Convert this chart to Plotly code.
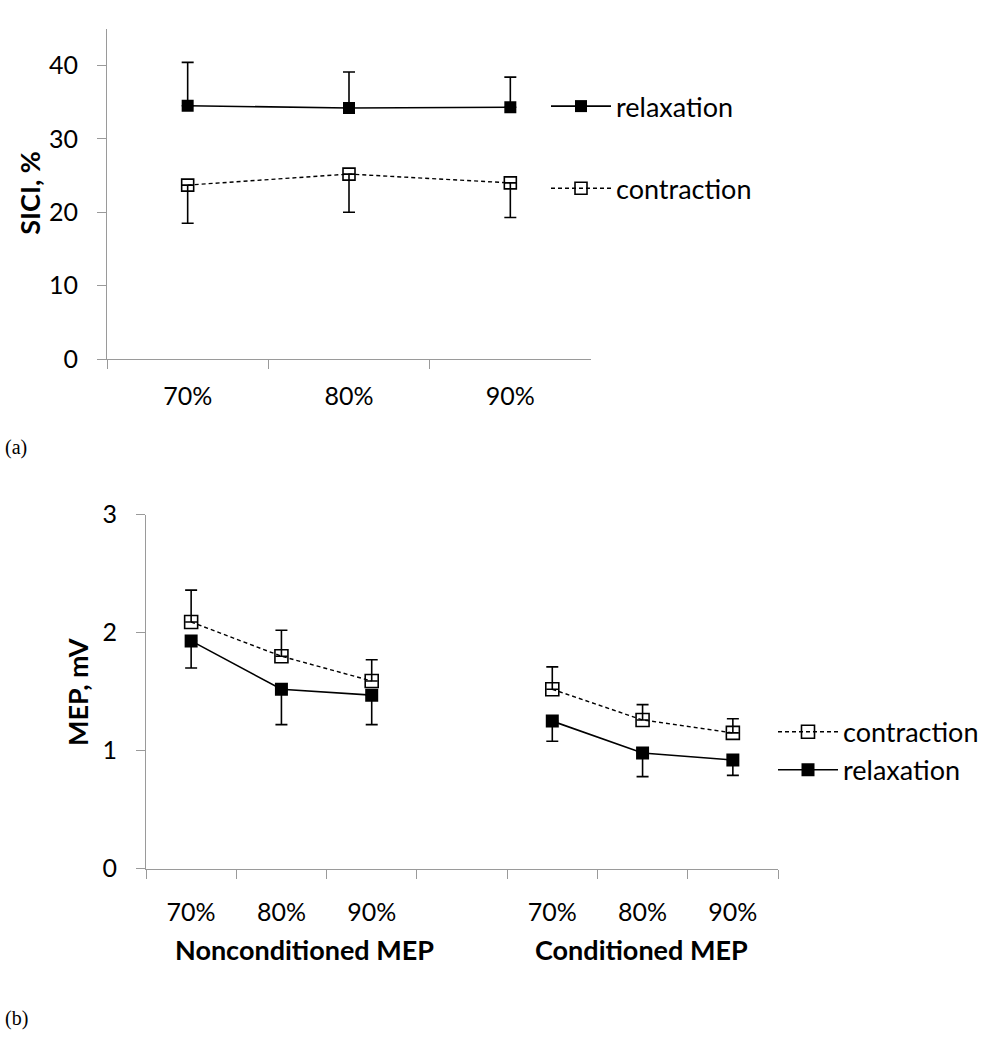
import plotly.graph_objects as go

# ---------------- data ----------------
pct = ["70%", "80%", "90%"]

# panel (a) SICI, %
sici_relax = [34.5, 34.2, 34.3]
sici_relax_err = [5.9, 4.9, 4.1]        # upper SD only
sici_contr = [23.7, 25.2, 24.0]
sici_contr_err = [5.2, 5.2, 4.7]        # lower SD only

# panel (b) MEP, mV
groups = ["Nonconditioned MEP", "Conditioned MEP"]
mep_contr = [[2.09, 1.80, 1.59], [1.52, 1.26, 1.15]]
mep_contr_err = [[0.27, 0.22, 0.18], [0.19, 0.13, 0.12]]   # upper only
mep_relax = [[1.93, 1.52, 1.47], [1.25, 0.98, 0.92]]
mep_relax_err = [[0.23, 0.30, 0.25], [0.17, 0.20, 0.13]]   # lower only

sici_ticks = [0, 10, 20, 30, 40]
mep_ticks = [0, 1, 2, 3]

# ---------------- style ----------------
W, H = 994, 1050
FONT = "Lato"
AX = "#9a9a9a"
TF = 25
LF = 27
BF = 27

def px_x(p):
    return p / W

def px_y(p):
    return 1 - p / H

fig = go.Figure()

# ---- panel (a) ----
fig.add_trace(go.Scatter(
    x=pct, y=sici_relax, name="relaxation", mode="lines+markers",
    line=dict(color="black", width=1.6),
    marker=dict(symbol="square", size=12, color="black"),
    error_y=dict(type="data", symmetric=False, array=sici_relax_err,
                 arrayminus=[0] * len(sici_relax), color="black",
                 thickness=1.6, width=6),
    xaxis="x", yaxis="y", legend="legend", legendgroup="a1",
))
fig.add_trace(go.Scatter(
    x=pct, y=sici_contr, name="contraction", mode="lines+markers",
    line=dict(color="black", width=1.4, dash="4px,3px"),
    marker=dict(symbol="square-open", size=12, color="black",
                line=dict(color="black", width=1.6)),
    error_y=dict(type="data", symmetric=False, array=[0] * len(sici_contr),
                 arrayminus=sici_contr_err, color="black",
                 thickness=1.6, width=6),
    xaxis="x", yaxis="y", legend="legend", legendgroup="a2",
))

# ---- panel (b) ----
for gi, g in enumerate(groups):
    xs = [gi * 4 + i for i in range(len(pct))]
    fig.add_trace(go.Scatter(
        x=xs, y=mep_contr[gi], name="contraction", mode="lines+markers",
        line=dict(color="black", width=1.4, dash="4px,3px"),
        marker=dict(symbol="square-open", size=13, color="black",
                    line=dict(color="black", width=1.6)),
        error_y=dict(type="data", symmetric=False, array=mep_contr_err[gi],
                     arrayminus=[0] * 3, color="black", thickness=1.6, width=6),
        xaxis="x2", yaxis="y2", legend="legend2", legendgroup="b1",
        showlegend=(gi == 0),
    ))
for gi, g in enumerate(groups):
    xs = [gi * 4 + i for i in range(len(pct))]
    fig.add_trace(go.Scatter(
        x=xs, y=mep_relax[gi], name="relaxation", mode="lines+markers",
        line=dict(color="black", width=1.6),
        marker=dict(symbol="square", size=13, color="black"),
        error_y=dict(type="data", symmetric=False, array=[0] * 3,
                     arrayminus=mep_relax_err[gi], color="black",
                     thickness=1.6, width=6),
        xaxis="x2", yaxis="y2", legend="legend2", legendgroup="b2",
        showlegend=(gi == 0),
    ))

b_tickvals = [gi * 4 + i for gi in range(len(groups)) for i in range(len(pct))]
b_ticktext = pct * len(groups)
b_bounds = [v - 0.5 for v in range(0, 4 * len(groups))]

axis_common = dict(showline=True, linecolor=AX, linewidth=1, showgrid=False,
                   zeroline=False, ticks="outside", tickcolor=AX,
                   tickfont=dict(family=FONT, size=TF, color="black"))

fig.update_layout(
    width=W, height=H, margin=dict(l=0, r=0, t=0, b=0),
    paper_bgcolor="white", plot_bgcolor="white",
    font=dict(family=FONT, size=TF, color="black"),
    xaxis=dict(domain=[px_x(107), px_x(591)], anchor="y", type="category",
               range=[-0.5, 2.5], tickson="boundaries", ticklen=9,
               ticklabelstandoff=15, **axis_common),
    yaxis=dict(domain=[px_y(353.3), px_y(13)], anchor="x", range=[0, 45],
               tickvals=sici_ticks, ticklen=9, ticklabelstandoff=14,
               **axis_common),
    xaxis2=dict(domain=[px_x(146), px_x(778)], anchor="y2",
                range=[-0.5, 4 * len(groups) - 1.5],
                tickvals=b_tickvals, ticktext=b_ticktext, ticklen=0,
                minor=dict(tickvals=b_bounds, ticks="outside", ticklen=9,
                           tickcolor=AX),
                ticklabelstandoff=21, **axis_common),
    yaxis2=dict(domain=[px_y(877.7), px_y(513.3)], anchor="x2", range=[0, 3],
                tickvals=mep_ticks, ticklen=9, ticklabelstandoff=14,
                **axis_common),
    legend=dict(x=px_x(546), y=px_y(68), xanchor="left", yanchor="top",
                traceorder="grouped", tracegroupgap=44, itemwidth=60,
                font=dict(family=FONT, size=LF), bgcolor="rgba(0,0,0,0)"),
    legend2=dict(x=px_x(773), y=px_y(712), xanchor="left", yanchor="top",
                 traceorder="grouped", tracegroupgap=0, itemwidth=60,
                 font=dict(family=FONT, size=LF), bgcolor="rgba(0,0,0,0)"),
)

annotations = [
    dict(text="<b>SICI, %</b>", x=px_x(30), y=px_y(182), xref="paper",
         yref="paper", textangle=-90, showarrow=False, xanchor="center",
         yanchor="middle", font=dict(family=FONT, size=BF)),
    dict(text="<b>MEP, mV</b>", x=px_x(77), y=px_y(696), xref="paper",
         yref="paper", textangle=-90, showarrow=False, xanchor="center",
         yanchor="middle", font=dict(family=FONT, size=BF)),
    dict(text="(a)", x=px_x(3), y=px_y(444), xref="paper", yref="paper",
         xanchor="left", yanchor="middle", showarrow=False,
         font=dict(family="Liberation Serif", size=20)),
    dict(text="(b)", x=px_x(3), y=px_y(1032), xref="paper", yref="paper",
         xanchor="left", yanchor="middle", showarrow=False,
         font=dict(family="Liberation Serif", size=20)),
]
group_label_x = [304, 641]   # pixel centres of the group captions
for gi, g in enumerate(groups):
    annotations.append(dict(
        text="<b>" + g + "</b>", x=px_x(group_label_x[gi]), xref="paper",
        y=px_y(961), yref="paper", showarrow=False, xanchor="center",
        yanchor="middle", font=dict(family=FONT, size=BF)))
fig.update_layout(annotations=annotations)

fig.write_html("out.html", config={"displayModeBar": False},
               post_script="document.body.style.margin='0';")
